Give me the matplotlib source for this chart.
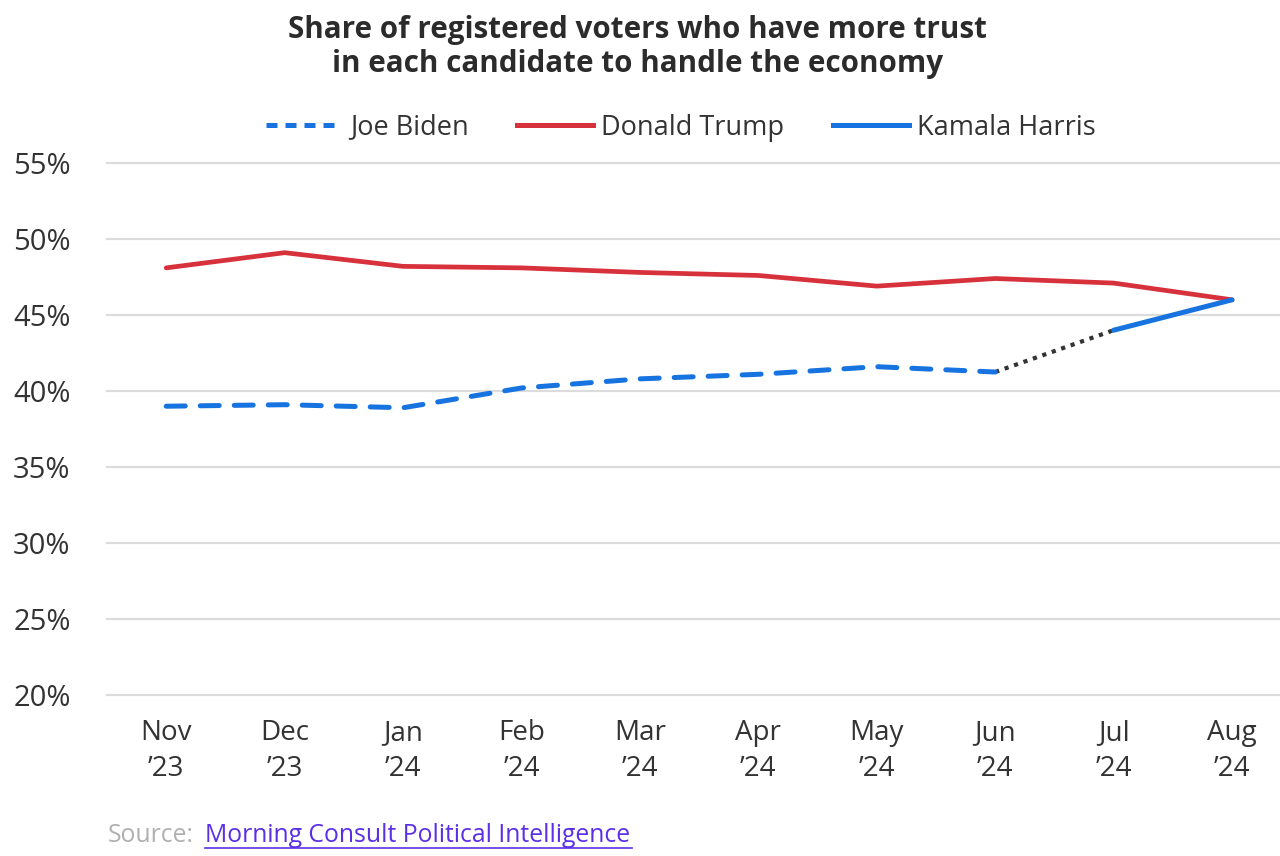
import matplotlib.pyplot as plt
from matplotlib.lines import Line2D

plt.rcParams['font.family'] = ['Open Sans', 'DejaVu Sans']

months = ['Nov\n\u201923', 'Dec\n\u201923', 'Jan\n\u201924', 'Feb\n\u201924', 'Mar\n\u201924',
          'Apr\n\u201924', 'May\n\u201924', 'Jun\n\u201924', 'Jul\n\u201924', 'Aug\n\u201924']
trump = [48.1, 49.1, 48.2, 48.1, 47.8, 47.6, 46.9, 47.4, 47.1, 46.0]
biden = [39.0, 39.1, 38.9, 40.2, 40.8, 41.1, 41.6, 41.25]
harris = [44.0, 46.0]

red = '#D7313B'
blue = '#1673E0'
txt = '#333333'

x = list(range(len(months)))

fig = plt.figure(figsize=(12.8, 8.56), dpi=100)
ax = fig.add_axes([0.0836, 0.188, 0.9164, 0.6216])

ax.plot(x, trump, color=red, lw=3.4, solid_capstyle='round', label='Donald Trump', zorder=3)
ax.plot(x[:len(biden)], biden, color=blue, lw=3.6, dashes=(3.8, 3.0),
        dash_capstyle='round', label='Joe Biden', zorder=3)
ax.plot(x[8:], harris, color=blue, lw=3.6, solid_capstyle='round', label='Kamala Harris', zorder=4)
# connector between Biden's last point and Harris's first
ax.plot([x[7], x[8]], [biden[-1], harris[0]], color=txt, lw=3.0, ls=(0, (1, 1.4)), zorder=2)

ax.set_xlim(-0.5, 9.405)
ax.set_ylim(20, 55)
ax.set_yticks(range(20, 56, 5))
ax.set_yticklabels([f'{v}%' for v in range(20, 56, 5)])
ax.set_xticks(x)
ax.set_xticklabels(months, linespacing=1.4)
ax.grid(axis='y', color='#dcdcdc', lw=1.6)
for g in ax.get_ygridlines():
    g.set_clip_on(False)
for s in ax.spines.values():
    s.set_visible(False)
ax.tick_params(axis='y', length=0, pad=0, labelsize=21, labelcolor=txt)
ax.tick_params(axis='x', length=0, pad=17, labelsize=20, labelcolor=txt)
for lab in ax.get_yticklabels():
    lab.set_horizontalalignment('left')
    lab.set_x(-0.08)

handles = [
    Line2D([], [], color=blue, lw=3.6, dashes=(2.2, 1.6)),
    Line2D([], [], color=red, lw=3.6),
    Line2D([], [], color=blue, lw=3.6),
]
leg = fig.legend(handles, ['Joe Biden', 'Donald Trump', 'Kamala Harris'],
                 loc='center', bbox_to_anchor=(0.532, 0.851), ncol=3, frameon=False,
                 fontsize=19.5, handlelength=2.8, handletextpad=0.3, columnspacing=1.8)
for t in leg.get_texts():
    t.set_color(txt)

fig.text(0.498, 0.945, 'Share of registered voters who have more trust\nin each candidate to handle the economy',
         ha='center', va='center', fontsize=21.3, fontweight='bold', color='#2b2b2b', linespacing=1.2)

fig.text(0.0845, 0.024, 'Source:', fontsize=17.8, color='#b0b0b0', va='center')
fig.text(0.160, 0.024, 'Morning Consult Political Intelligence', fontsize=17.8, color='#5b2fe6',
         va='center')
fig.add_artist(Line2D([0.160, 0.494], [0.0095, 0.0095], color='#5b2fe6', lw=1.2))

fig.savefig('out.png', dpi=100)
